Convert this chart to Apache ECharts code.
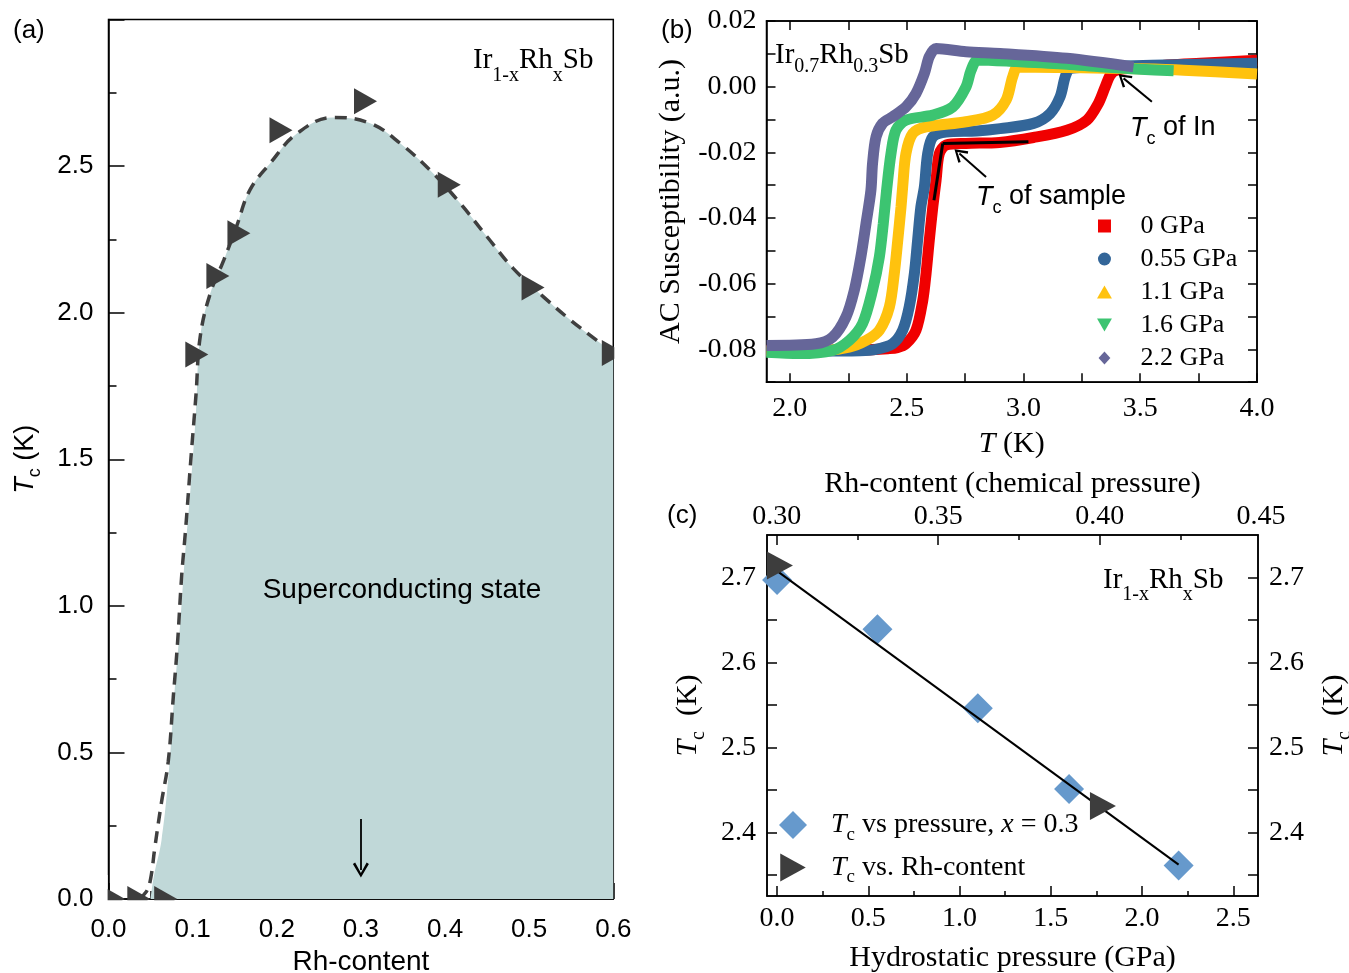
<!DOCTYPE html>
<html><head><meta charset="utf-8">
<script src="https://cdn.jsdelivr.net/npm/echarts@6/dist/echarts.min.js"></script>
<style>html,body{margin:0;padding:0;background:#fff}#c{width:1349px;height:973px}</style>
</head><body><div id="c"></div><script>
// ---------------- Panel (a): Tc vs Rh-content ----------------
const aTriX = [0.006, 0.036, 0.068, 0.105, 0.130, 0.155, 0.205, 0.3055, 0.405, 0.5046, 0.600];
const aTriY = [0, 0, 0, 1.857, 2.125, 2.271, 2.622, 2.721, 2.436, 2.086, 1.862];
const aCurveX = [0.036, 0.045, 0.050, 0.055, 0.063, 0.071, 0.077, 0.082, 0.087, 0.092, 0.098, 0.104, 0.109, 0.121, 0.137, 0.152, 0.168, 0.192, 0.224, 0.267, 0.311, 0.347, 0.386, 0.418, 0.450, 0.481, 0.517, 0.549, 0.580, 0.600];
const aCurveY = [0.000, 0.025, 0.068, 0.174, 0.330, 0.469, 0.689, 0.871, 1.103, 1.273, 1.504, 1.720, 1.918, 2.066, 2.179, 2.293, 2.418, 2.509, 2.611, 2.666, 2.646, 2.577, 2.475, 2.373, 2.259, 2.151, 2.054, 1.975, 1.906, 1.862];
const aFillX = [0.050, 0.054, 0.063, 0.072, 0.078, 0.085, 0.091, 0.098, 0.104, 0.109, 0.121, 0.137, 0.152, 0.168, 0.192, 0.224, 0.267, 0.311, 0.347, 0.386, 0.418, 0.450, 0.481, 0.517, 0.549, 0.580, 0.600];
const aFillY = [0.000, 0.079, 0.200, 0.445, 0.689, 0.932, 1.176, 1.419, 1.663, 1.918, 2.066, 2.179, 2.293, 2.418, 2.509, 2.611, 2.666, 2.646, 2.577, 2.475, 2.373, 2.259, 2.151, 2.054, 1.975, 1.906, 1.862];

// ---------------- Panel (b): AC susceptibility vs T ----------------
const bNames = ['0 GPa', '0.55 GPa', '1.1 GPa', '1.6 GPa', '2.2 GPa'];
const bT_0   = [1.90, 2.10, 2.30, 2.42, 2.46, 2.497, 2.540, 2.569, 2.583, 2.597, 2.612, 2.626, 2.640, 2.669, 2.754, 2.897, 3.043, 3.186, 3.272, 3.321, 3.350, 3.372, 3.400, 3.55, 3.757, 4.0];
const bChi_0 = [-0.0803, -0.0803, -0.0802, -0.0798, -0.0795, -0.0783, -0.0742, -0.0651, -0.0570, -0.0468, -0.0366, -0.0285, -0.0204, -0.0178, -0.0173, -0.0170, -0.0155, -0.0133, -0.0102, -0.0051, -0.0001, 0.0035, 0.0050, 0.0062, 0.0071, 0.0080];
const bT_055   = [1.90, 2.10, 2.30, 2.369, 2.440, 2.483, 2.511, 2.533, 2.547, 2.561, 2.576, 2.590, 2.612, 2.669, 2.80, 2.90, 3.043, 3.114, 3.157, 3.179, 3.200, 3.40, 3.70, 4.0];
const bChi_055 = [-0.0805, -0.0805, -0.0804, -0.0800, -0.0783, -0.0742, -0.0671, -0.0570, -0.0468, -0.0366, -0.0305, -0.0204, -0.0153, -0.0138, -0.0135, -0.0128, -0.0112, -0.0082, -0.0031, 0.0030, 0.0055, 0.0062, 0.0067, 0.0071];
const bT_11   = [1.90, 2.10, 2.254, 2.326, 2.383, 2.426, 2.447, 2.462, 2.476, 2.483, 2.497, 2.526, 2.583, 2.754, 2.869, 2.926, 2.954, 2.977, 3.2, 3.5, 3.686, 4.0];
const bChi_11 = [-0.0805, -0.0806, -0.0793, -0.0773, -0.0742, -0.0671, -0.0570, -0.0468, -0.0366, -0.0305, -0.0204, -0.0143, -0.0123, -0.0107, -0.0087, -0.0041, 0.0030, 0.0060, 0.0058, 0.0054, 0.0050, 0.0038];
const bT_16   = [1.90, 2.04, 2.183, 2.254, 2.311, 2.354, 2.383, 2.400, 2.415, 2.433, 2.454, 2.497, 2.612, 2.697, 2.754, 2.776, 2.804, 2.969, 3.186, 3.329, 3.50, 3.643];
const bChi_16 = [-0.0809, -0.0813, -0.0803, -0.0773, -0.0722, -0.0620, -0.0519, -0.0417, -0.0310, -0.0204, -0.0133, -0.0102, -0.0087, -0.0062, -0.0001, 0.0050, 0.0081, 0.0076, 0.0068, 0.0060, 0.0053, 0.0048];
const bT_22   = [1.90, 2.111, 2.183, 2.240, 2.276, 2.304, 2.326, 2.347, 2.354, 2.369, 2.397, 2.440, 2.497, 2.540, 2.576, 2.597, 2.626, 2.754, 2.900, 3.186, 3.471];
const bChi_22 = [-0.0788, -0.0783, -0.0763, -0.0702, -0.0620, -0.0519, -0.0417, -0.0316, -0.0234, -0.0153, -0.0112, -0.0092, -0.0062, -0.0021, 0.0040, 0.0091, 0.0116, 0.0106, 0.0101, 0.0086, 0.0060];
const bColors = ['#f00000', '#336699', '#ffc20e', '#3cc471', '#666699'];

// ---------------- Panel (c): Tc vs pressure / Rh-content ----------------
const cPressure = [0, 0.55, 1.1, 1.6, 2.2];
const cTcPressure = [2.697, 2.639, 2.546, 2.451, 2.361];
const cRh = [0.301, 0.401];
const cTcRh = [2.714, 2.431];
const cFitP = [-0.04, 2.2];
const cFitTc = [2.714, 2.362];

// ---------------- Tick values ----------------
const bXLabels = [2.0, 2.5, 3.0, 3.5, 4.0];
const bXTicks = [2.0, 2.25, 2.5, 2.75, 3.0, 3.25, 3.5, 3.75, 4.0];
const bYLabels = [-0.08, -0.06, -0.04, -0.02, 0, 0.02];
const bYTicks = [-0.09, -0.08, -0.07, -0.06, -0.05, -0.04, -0.03, -0.02, -0.01, 0, 0.01, 0.02];
const cXLabels = [0, 0.5, 1.0, 1.5, 2.0, 2.5];
const cXMinor = [0.25, 0.75, 1.25, 1.75, 2.25];
const cTopLabels = [0.30, 0.35, 0.40];
const cTopMinor = [0.325, 0.375, 0.425];
const cYLabels = [2.4, 2.5, 2.6, 2.7];
const cYTicks = [2.35, 2.4, 2.45, 2.5, 2.55, 2.6, 2.65, 2.7];

const zip = (xs, ys) => xs.map((x, i) => [x, ys[i]]);
const SANS = '"Liberation Sans", Arial, sans-serif';
const SERIF = '"Liberation Serif", "Times New Roman", serif';
const BLACK = '#000';

function rich(ff, fs, lhf) {
  const lh = Math.round(fs * (lhf || 1.6));
  const sf = Math.round(fs * 0.68);
  return {
    n: { fontFamily: ff, fontSize: fs, lineHeight: lh, color: BLACK },
    i: { fontFamily: ff, fontSize: fs, lineHeight: lh, fontStyle: 'italic', color: BLACK },
    s: { fontFamily: ff, fontSize: sf, lineHeight: sf, verticalAlign: 'bottom', color: BLACK }
  };
}
const axLine = { show: true, onZero: false, lineStyle: { color: BLACK, width: 1.5 } };
function tick(len, vals) {
  const t = { show: true, inside: true, length: len, lineStyle: { color: BLACK, width: 1.5 } };
  if (vals) t.customValues = vals;
  return t;
}
function lab(ff, fs, margin, digits, vals) {
  const l = { show: true, fontFamily: ff, fontSize: fs, color: BLACK, margin: margin, formatter: v => (+v).toFixed(digits) };
  if (vals) l.customValues = vals;
  return l;
}
const noLab = { show: false };
const noSplit = { show: false };

const triRight = 'path://M0,0L10,5.5L0,11Z';
const diamondPath = 'path://M5,0L10,5L5,10L0,5Z';
const vArrow = 'path://M5,0L10,9L8.6,10L5,3L1.4,10L0,9Z';

const GA = { left: 108.5, top: 19.5, width: 504.8, height: 879.5 };
const GB = { left: 766.5, top: 20.9, width: 490.5, height: 361.3 };
const GC = { left: 767, top: 535, width: 491, height: 361 };
const gridBase = { show: true, borderColor: BLACK, borderWidth: 1.5, backgroundColor: 'transparent', containLabel: false, outerBoundsMode: 'none' };

const option = {
  animation: false,
  backgroundColor: '#fff',
  grid: [
    Object.assign({}, gridBase, GA),
    Object.assign({}, gridBase, GB),
    Object.assign({}, gridBase, GC)
  ],
  xAxis: [
    { // 0: panel a
      gridIndex: 0, type: 'value', min: 0, max: 0.6, interval: 0.1, position: 'bottom',
      axisLine: axLine, axisTick: tick(16), minorTick: { show: true, splitNumber: 2, length: 8, lineStyle: { color: BLACK, width: 1.5 } },
      axisLabel: lab(SANS, 26, 18, 1), splitLine: noSplit, minorSplitLine: { show: false },
      name: 'Rh-content', nameLocation: 'middle', nameGap: 48,
      nameTextStyle: { fontFamily: SANS, fontSize: 28, color: BLACK }
    },
    { // 1: panel b bottom
      gridIndex: 1, type: 'value', min: 1.9, max: 4.0, position: 'bottom',
      axisLine: axLine, axisTick: tick(9, bXTicks), axisLabel: lab(SERIF, 28, 12, 1, bXLabels), splitLine: noSplit,
      name: '{i|T}{n| (K)}', nameLocation: 'middle', nameGap: 44,
      nameTextStyle: { rich: rich(SERIF, 30, 1.2) }
    },
    { // 2: panel b top
      gridIndex: 1, type: 'value', min: 1.9, max: 4.0, position: 'top',
      axisLine: axLine, axisTick: tick(9, bXTicks), axisLabel: noLab, splitLine: noSplit
    },
    { // 3: panel c bottom (pressure)
      gridIndex: 2, type: 'value', min: -0.055, max: 2.635, position: 'bottom',
      axisLine: axLine, axisTick: tick(10, cXLabels), axisLabel: lab(SERIF, 28, 9, 1, cXLabels), splitLine: noSplit,
      name: 'Hydrostatic pressure (GPa)', nameLocation: 'middle', nameGap: 47,
      nameTextStyle: { fontFamily: SERIF, fontSize: 30, color: BLACK }
    },
    { // 4: panel c bottom minor
      gridIndex: 2, type: 'value', min: -0.055, max: 2.635, position: 'bottom',
      axisLine: { show: false, onZero: false }, axisTick: tick(5, cXMinor), axisLabel: noLab, splitLine: noSplit
    },
    { // 5: panel c top (Rh-content)
      gridIndex: 2, type: 'value', min: 0.297, max: 0.449, position: 'top',
      axisLine: axLine, axisTick: tick(10, cTopLabels), axisLabel: lab(SERIF, 28, 4, 2, cTopLabels), splitLine: noSplit,
      name: 'Rh-content (chemical pressure)', nameLocation: 'middle', nameGap: 36,
      nameTextStyle: { fontFamily: SERIF, fontSize: 30, color: BLACK }
    },
    { // 6: panel c top minor
      gridIndex: 2, type: 'value', min: 0.297, max: 0.449, position: 'top',
      axisLine: { show: false, onZero: false }, axisTick: tick(5, cTopMinor), axisLabel: noLab, splitLine: noSplit
    }
  ],
  yAxis: [
    { // 0: panel a
      gridIndex: 0, type: 'value', min: 0, max: 3, interval: 0.5, position: 'left',
      axisLine: axLine, axisTick: tick(16), minorTick: { show: true, splitNumber: 2, length: 8, lineStyle: { color: BLACK, width: 1.5 } },
      axisLabel: Object.assign(lab(SANS, 26, 15, 1), { showMaxLabel: false }), splitLine: noSplit, minorSplitLine: { show: false },
      name: '{i|T}{s|c}{n| (K)}', nameLocation: 'middle', nameGap: 64, nameRotate: 90,
      nameTextStyle: { rich: rich(SANS, 27, 1.4) }
    },
    { // 1: panel b left
      gridIndex: 1, type: 'value', min: -0.09, max: 0.02, position: 'left',
      axisLine: axLine, axisTick: tick(9, bYTicks), axisLabel: lab(SERIF, 28, 10, 2, bYLabels), splitLine: noSplit,
      name: 'AC Susceptibility (a.u.)', nameLocation: 'middle', nameGap: 80, nameRotate: 90,
      nameTextStyle: { fontFamily: SERIF, fontSize: 30, color: BLACK }
    },
    { // 2: panel b right
      gridIndex: 1, type: 'value', min: -0.09, max: 0.02, position: 'right',
      axisLine: axLine, axisTick: tick(9, bYTicks), axisLabel: noLab, splitLine: noSplit
    },
    { // 3: panel c left
      gridIndex: 2, type: 'value', min: 2.325, max: 2.75, position: 'left',
      axisLine: axLine, axisTick: tick(10, cYTicks), axisLabel: lab(SERIF, 28, 11, 1, cYLabels), splitLine: noSplit,
      name: '{i|T}{s|c}{n|  (K)}', nameLocation: 'middle', nameGap: 58, nameRotate: 90,
      nameTextStyle: { rich: rich(SERIF, 30, 1.4) }
    },
    { // 4: panel c right
      gridIndex: 2, type: 'value', min: 2.325, max: 2.75, position: 'right',
      axisLine: axLine, axisTick: tick(10, cYTicks), axisLabel: lab(SERIF, 28, 11, 1, cYLabels), splitLine: noSplit,
      name: '{i|T}{s|c}{n|  (K)}', nameLocation: 'middle', nameGap: 55, nameRotate: 90,
      nameTextStyle: { rich: rich(SERIF, 30, 1.4) }
    }
  ],
  legend: [
    {
      orient: 'vertical', left: 1097, top: 213, itemWidth: 62, itemHeight: 13, itemGap: 7,
      selectedMode: false, padding: 0,
      textStyle: { fontFamily: SERIF, fontSize: 26, color: BLACK, lineHeight: 22 },
      data: [
        { name: bNames[0], icon: 'path://M0,0H10V10H0Z' },
        { name: bNames[1], icon: 'path://M10,5A5,5 0 1 1 0,5A5,5 0 1 1 10,5Z' },
        { name: bNames[2], icon: 'path://M5,0L10,8.7L0,8.7Z' },
        { name: bNames[3], icon: 'path://M0,0L10,0L5,8.7Z' },
        { name: bNames[4], icon: 'path://M5,0L10,5.5L5,11L0,5.5Z' }
      ]
    },
    {
      orient: 'vertical', left: 779, top: 811, itemWidth: 66, itemHeight: 28, itemGap: 9,
      selectedMode: false, padding: 0,
      formatter: n => n === 'Tc vs pressure' ? '{i|T}{s|c}{n| vs pressure, }{i|x}{n| = 0.3}' : '{i|T}{s|c}{n| vs. Rh-content}',
      textStyle: { rich: rich(SERIF, 28, 1.4) },
      data: [
        { name: 'Tc vs pressure', icon: diamondPath },
        { name: 'Tc vs Rh', icon: triRight }
      ]
    }
  ],
  series: [
    // ----- panel a -----
    {
      name: 'SC fill', type: 'line', xAxisIndex: 0, yAxisIndex: 0, data: zip(aFillX, aFillY),
      smooth: 0.4, symbol: 'none', lineStyle: { width: 0, opacity: 0 },
      areaStyle: { color: '#c0d8d8', opacity: 1 }, z: 1, silent: true
    },
    {
      name: 'Tc boundary', type: 'line', xAxisIndex: 0, yAxisIndex: 0, data: zip(aCurveX, aCurveY),
      smooth: 0.4, symbol: 'none',
      lineStyle: { color: '#3f3f3f', width: 3.5, type: [12, 8] }, z: 2, silent: true
    },
    {
      name: 'Tc a', type: 'scatter', xAxisIndex: 0, yAxisIndex: 0, data: zip(aTriX, aTriY),
      symbol: triRight, symbolSize: [23, 26], symbolKeepAspect: false,
      itemStyle: { color: '#3d3d3d', opacity: 1 }, z: 3, silent: true,
      markLine: {
        silent: true, animation: false, symbol: ['none', 'none'], label: { show: false },
        lineStyle: { color: BLACK, width: 1.8, type: 'solid' },
        data: [[{ coord: [0.3, 0.273] }, { coord: [0.3, 0.099], symbol: vArrow, symbolSize: [16, 15] }]]
      }
    },
    // ----- panel b -----
    ...[[bT_0, bChi_0], [bT_055, bChi_055], [bT_11, bChi_11], [bT_16, bChi_16], [bT_22, bChi_22]].map((d, k) => ({
      name: bNames[k], type: 'line', xAxisIndex: 1, yAxisIndex: 1, data: zip(d[0], d[1]),
      smooth: 0.3, symbol: 'none', color: bColors[k],
      lineStyle: { color: bColors[k], width: 11 }, itemStyle: { color: bColors[k] }, z: 2, silent: true,
      markLine: k === 4 ? {
        silent: true, animation: false, symbol: ['none', 'none'], label: { show: false }, z: 10,
        lineStyle: { color: BLACK, width: 2, type: 'solid' },
        data: [
          [{ coord: [2.6545, -0.0173], lineStyle: { width: 3 } }, { coord: [3.0214, -0.0168] }],
          [{ coord: [2.6545, -0.0173], lineStyle: { width: 3 } }, { coord: [2.617, -0.0346] }],
          [{ coord: [3.55, -0.00463] }, { coord: [3.4287, 0.0025], symbol: vArrow, symbolSize: [15, 13] }],
          [{ coord: [2.840, -0.0275] }, { coord: [2.7257, -0.0204], symbol: vArrow, symbolSize: [15, 13] }]
        ]
      } : undefined
    })),
    // ----- panel c -----
    {
      name: 'Tc vs pressure', type: 'scatter', xAxisIndex: 3, yAxisIndex: 3, data: zip(cPressure, cTcPressure),
      symbol: diamondPath, symbolSize: 30, itemStyle: { color: '#6699cc', opacity: 1 }, z: 2, silent: true
    },
    {
      name: 'fit', type: 'line', xAxisIndex: 3, yAxisIndex: 3, data: zip(cFitP, cFitTc),
      symbol: 'none', lineStyle: { color: BLACK, width: 2 }, z: 3, silent: true
    },
    {
      name: 'Tc vs Rh', type: 'scatter', xAxisIndex: 5, yAxisIndex: 3, data: zip(cRh, cTcRh),
      symbol: triRight, symbolSize: [26, 28], symbolKeepAspect: false,
      itemStyle: { color: '#3d3d3d', opacity: 1 }, z: 4, silent: true
    }
  ],
  graphic: [
    // covers to clip triangles at panel (a) edges
    { type: 'rect', z: 100, silent: true, shape: { x: 95, y: 900.2, width: 95, height: 12.5 }, style: { fill: '#fff' } },
    { type: 'rect', z: 100, silent: true, shape: { x: 95, y: 875, width: 12.6, height: 37 }, style: { fill: '#fff' } },
    { type: 'rect', z: 100, silent: true, shape: { x: 614.3, y: 330, width: 30, height: 50 }, style: { fill: '#fff' } },
    // panel labels
    { type: 'text', z: 50, x: 13, y: 31, style: { text: '(a)', fontFamily: SANS, fontSize: 26, fill: BLACK, verticalAlign: 'middle' } },
    { type: 'text', z: 50, x: 661, y: 31, style: { text: '(b)', fontFamily: SANS, fontSize: 26, fill: BLACK, verticalAlign: 'middle' } },
    { type: 'text', z: 50, x: 667, y: 516, style: { text: '(c)', fontFamily: SANS, fontSize: 26, fill: BLACK, verticalAlign: 'middle' } },
    // annotations
    { type: 'text', z: 50, x: 473, y: 60, style: { text: '{n|Ir}{s|1-x}{n|Rh}{s|x}{n|Sb}', rich: rich(SERIF, 29, 1.8), verticalAlign: 'middle' } },
    { type: 'text', z: 50, x: 402, y: 590, style: { text: 'Superconducting state', fontFamily: SANS, fontSize: 28, fill: BLACK, align: 'center', verticalAlign: 'middle' } },
    { type: 'text', z: 50, x: 775, y: 55, style: { text: '{n|Ir}{s|0.7}{n|Rh}{s|0.3}{n|Sb}', rich: rich(SERIF, 29, 1.5), verticalAlign: 'middle' } },
    { type: 'text', z: 50, x: 1130, y: 128, style: { text: '{i|T}{s|c}{n| of In}', rich: rich(SANS, 27, 1.5), verticalAlign: 'middle' } },
    { type: 'text', z: 50, x: 976, y: 197, style: { text: '{i|T}{s|c}{n| of sample}', rich: rich(SANS, 27, 1.5), verticalAlign: 'middle' } },
    { type: 'text', z: 50, x: 1103, y: 580, style: { text: '{n|Ir}{s|1-x}{n|Rh}{s|x}{n|Sb}', rich: rich(SERIF, 29, 1.7), verticalAlign: 'middle' } },
    { type: 'text', z: 50, x: 1261, y: 517, style: { text: '0.45', fontFamily: SERIF, fontSize: 28, fill: BLACK, align: 'center', verticalAlign: 'middle' } }
  ]
};

const chart = echarts.init(document.getElementById('c'), null, { renderer: 'canvas' });
chart.setOption(option);
</script></body></html>
